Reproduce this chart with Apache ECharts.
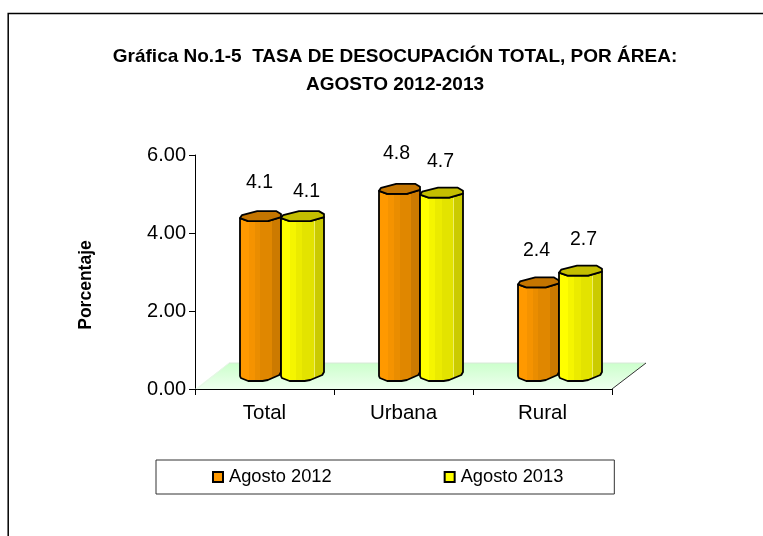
<!DOCTYPE html>
<html><head><meta charset="utf-8">
<style>html,body{margin:0;padding:0;background:#fff}#c{width:763px;height:536px}</style>
<script src="https://cdn.jsdelivr.net/npm/echarts@6/dist/echarts.min.js"></script>
</head><body><div id="c"></div>
<script>
const categories = ['Total', 'Urbana', 'Rural'];
const agosto2012 = [4.1, 4.8, 2.4];
const agosto2013 = [4.1, 4.7, 2.7];
const yTicks = [0, 2, 4, 6];
const titleText = 'Gráfica No.1-5  TASA DE DESOCUPACIÓN TOTAL, POR ÁREA:\nAGOSTO 2012-2013';

const FONT = '"Liberation Sans", Arial, sans-serif';
const BASE_LIFT = 8, BAR_W = [41, 43], GROUP_SHIFT = -24.5;

function bands(s, e) {
  return { type: 'linear', x: 0, y: 0, x2: 1, y2: 0, colorStops: [
    {offset: 0, color: s[0]}, {offset: .22, color: s[0]},
    {offset: .22, color: s[1]}, {offset: .36, color: s[1]},
    {offset: .36, color: s[2]}, {offset: .5, color: s[2]},
    {offset: .5, color: s[3]}, {offset: .76, color: s[3]},
    {offset: .76, color: e}, {offset: .78, color: e},
    {offset: .78, color: s[4]}, {offset: 1, color: s[4]}
  ]};
}
const styles = [
  { fill: bands(['#FF9900', '#F59300', '#EA8D00', '#E08700', '#CC7A00'], '#E8A04C'), lid: '#C47500' },
  { fill: bands(['#FFFF00', '#F5F500', '#EBEB00', '#E3E300', '#CBCB00'], '#EEEE66'), lid: '#C4BE00' }
];

function barItem(idx, labelNudge) {
  return function (params, api) {
    const c = api.value(0), v = api.value(1);
    const x0 = api.coord([c, 0])[0] + GROUP_SHIFT + (idx ? BAR_W[0] : 0);
    const yBase = api.coord([c, 0])[1] - BASE_LIFT;
    const yTop = api.coord([c, v])[1] - BASE_LIFT - 3;
    const w = BAR_W[idx];
    const X = f => x0 + f * w;
    const body = [
      [X(0), yTop], [X(.2), yTop + 3], [X(.68), yTop + 3], [X(1), yTop - 1],
      [X(1), yBase - 9], [X(.96), yBase - 6], [X(.68), yBase - 1], [X(.55), yBase], [X(.2), yBase], [X(.02), yBase - 3], [X(0), yBase - 5]
    ];
    const lid = [
      [X(0), yTop], [X(.05), yTop - 3], [X(.42), yTop - 7], [X(.88), yTop - 7],
      [X(1), yTop - 4], [X(1), yTop - 1], [X(.68), yTop + 3], [X(.2), yTop + 3]
    ];
    const n = labelNudge[c];
    return { type: 'group', children: [
      { type: 'polygon', shape: { points: body }, style: { fill: styles[idx].fill, stroke: '#000', lineWidth: 1.8, lineJoin: 'round' } },
      { type: 'polygon', shape: { points: lid }, style: { fill: styles[idx].lid, stroke: '#000', lineWidth: 1.8, lineJoin: 'round' } },
      { type: 'text', style: { text: v.toFixed(1), x: x0 + w / 2 + n[0], y: yTop - 34 + n[1], align: 'center', verticalAlign: 'middle',
        fill: '#000', font: '19.5px ' + FONT } }
    ]};
  };
}

function floorItem(params, api) {
  const a = api.coord([0, 0]), size = api.size([1, 0])[0];
  const left = a[0] - size / 2, right = left + size * categories.length, y = a[1];
  return { type: 'group', children: [
    { type: 'polygon', shape: { points: [[left, y], [left + 34, y - 26], [right + 34, y - 26], [right, y]] },
      style: { fill: { type: 'linear', x: 0, y: 0, x2: 0, y2: 1, colorStops: [{offset: 0, color: '#CCFFCC'}, {offset: 1, color: '#EEFFEE'}] }, stroke: null } },
    { type: 'line', shape: { x1: left + 2, y1: y, x2: left + 34, y2: y - 26 }, style: { stroke: '#E8F4E8', lineWidth: 1 } },
    { type: 'line', shape: { x1: left + 34, y1: y - 26, x2: right + 34, y2: y - 26 }, style: { stroke: '#D8E8D8', lineWidth: 1 } },
    { type: 'line', shape: { x1: right, y1: y, x2: right + 34, y2: y - 26 }, style: { stroke: '#333', lineWidth: 1 } }
  ]};
}

const chart = echarts.init(document.getElementById('c'), null, { renderer: 'canvas' });
chart.setOption({
  animation: false,
  backgroundColor: '#fff',
  title: { text: titleText, left: 390, textAlign: 'center', top: 38,
    textStyle: { fontFamily: FONT, fontSize: 19, fontWeight: 'bold', color: '#000', lineHeight: 28 } },
  graphic: [
    { type: 'polyline', shape: { points: [[8.2, 536], [8.2, 13.4], [763, 13.4]] }, style: { stroke: '#000', lineWidth: 1.5, fill: null } }
  ],
  grid: { left: 195, top: 155, width: 417, height: 234, containLabel: false },
  xAxis: { type: 'category', data: categories, boundaryGap: true,
    axisLine: { lineStyle: { color: '#000', width: 1 } },
    axisTick: { show: true, alignWithLabel: false, length: 6, lineStyle: { color: '#000' } },
    axisLabel: { color: '#000', fontFamily: FONT, fontSize: 20.5, margin: 14 } },
  yAxis: { type: 'value', min: yTicks[0], max: yTicks[yTicks.length - 1], interval: yTicks[1] - yTicks[0],
    name: 'Porcentaje', nameLocation: 'middle', nameRotate: 90, nameGap: 100,
    nameTextStyle: { fontFamily: FONT, fontSize: 17.5, fontWeight: 'bold', color: '#000', padding: [0, 26, 0, 0] },
    axisLine: { show: true, lineStyle: { color: '#000', width: 1 } },
    axisTick: { show: true, length: 6, lineStyle: { color: '#000' } },
    splitLine: { show: false },
    axisLabel: { color: '#000', fontFamily: FONT, fontSize: 20, margin: 9, formatter: v => v.toFixed(2) } },
  legend: { left: 156, top: 460, padding: [8, 51, 8, 56], itemGap: 112, itemWidth: 10, itemHeight: 10, icon: 'rect',
    borderColor: '#333', borderWidth: 1, backgroundColor: '#fff',
    data: ['Agosto 2012', 'Agosto 2013'],
    textStyle: { fontFamily: FONT, fontSize: 18.3, color: '#000', padding: [0, 0, 0, 1] } },
  series: [
    { name: 'floor', type: 'custom', renderItem: floorItem, data: [[0, 0]], encode: { x: 0, y: 1 }, silent: true, clip: false, z: 1 },
    { name: 'Agosto 2012', type: 'custom', renderItem: barItem(0, [[-1, -1], [-3, -3], [-2, 0]]), data: categories.map((c, i) => [i, agosto2012[i]]),
      encode: { x: 0, y: 1 }, clip: false, z: 3, itemStyle: { color: '#FF9900', borderColor: '#000', borderWidth: 1.5 } },
    { name: 'Agosto 2013', type: 'custom', renderItem: barItem(1, [[4, 8], [-1, 1], [3, 1]]), data: categories.map((c, i) => [i, agosto2013[i]]),
      encode: { x: 0, y: 1 }, clip: false, z: 4, itemStyle: { color: '#FFFF00', borderColor: '#000', borderWidth: 1.5 } }
  ]
});
</script></body></html>
